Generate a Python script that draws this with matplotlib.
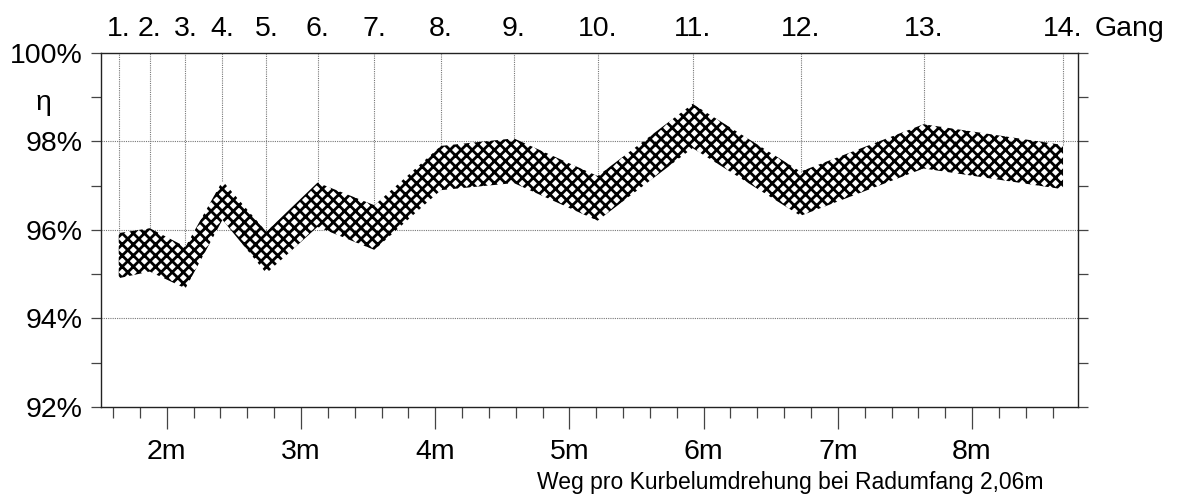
import numpy as np
import matplotlib
matplotlib.use("Agg")
import matplotlib.pyplot as plt
from matplotlib.ticker import MultipleLocator, FixedLocator
from matplotlib.transforms import blended_transform_factory

plt.rcParams['font.family'] = ['Liberation Sans', 'DejaVu Sans']
plt.rcParams['hatch.linewidth'] = 2.0

# --- Data: distance per crank turn (m) and efficiency band per gear ---
gears = ["1.", "2.", "3.", "4.", "5.", "6.", "7.", "8.", "9.", "10.", "11.", "12.", "13.", "14."]
weg = [1.642, 1.873, 2.139, 2.415, 2.742, 3.123, 3.547, 4.042, 4.586, 5.210, 5.918, 6.722, 7.639, 8.678]
eta_upper = [95.93, 96.04, 95.62, 97.11, 95.96, 97.07, 96.56, 97.90, 98.07, 97.22, 98.85, 97.32, 98.39, 97.92]
eta_lower = [94.91, 95.06, 94.68, 96.23, 95.02, 96.07, 95.55, 96.90, 97.06, 96.21, 97.85, 96.32, 97.39, 96.92]

x_major = [2, 3, 4, 5, 6, 7, 8]
x_labels = ["2m", "3m", "4m", "5m", "6m", "7m", "8m"]
y_major = [92, 94, 96, 98, 100]
y_labels = ["92%", "94%", "96%", "98%", "100%"]

fig = plt.figure(figsize=(11.83, 4.97), dpi=100)
ax = fig.add_axes([0.0854, 0.1811, 0.8259, 0.7123])

# --- Grid: dotted horizontals, dotted verticals from top down to band ---
grid_kw = dict(color='#777777', linewidth=0.8, linestyle=(0, (1, 1)), zorder=1)
for yv in [94, 96, 98]:
    ax.axhline(yv, **grid_kw)
ax.vlines(weg, eta_upper, 100, **grid_kw)

# --- Efficiency band ---
ax.fill_between(weg, eta_lower, eta_upper, facecolor='none', edgecolor='black',
                hatch='xxx', linewidth=0, zorder=2)

ax.set_xlim(1.51, 8.79)
ax.set_ylim(92, 100)

# --- Axes styling ---
for s in ax.spines.values():
    s.set_color('#222222')
    s.set_linewidth(1.0)

ax.xaxis.set_major_locator(FixedLocator(x_major))
ax.set_xticklabels(x_labels, fontsize=20.5)
ax.xaxis.set_minor_locator(MultipleLocator(0.2))
ax.tick_params(axis='x', which='major', direction='out', length=16, width=0.9,
               color='#444444', pad=7)
ax.tick_params(axis='x', which='minor', direction='out', length=8, width=0.9,
               color='#444444')

ax.yaxis.set_major_locator(FixedLocator(y_major))
ax.set_yticklabels(y_labels, fontsize=20.5)
ax.yaxis.set_minor_locator(MultipleLocator(1))
ax.tick_params(axis='y', which='both', direction='out', length=7, width=0.9,
               color='#444444', pad=6, right=True)

# --- Gear labels along the top ---
for g, x in zip(gears, weg):
    ax.text(x, 100.55, g, ha='center', va='center', fontsize=20.5)
ax.text(1.017, 100.55, "Gang", transform=blended_transform_factory(ax.transAxes, ax.transData),
        ha='left', va='center', fontsize=20.5)

fig.text(43 / 1183, 1 - 103 / 497, "η", ha='center', va='center', fontsize=20.5)
fig.text(790 / 1183, 1 - 483 / 497, "Weg pro Kurbelumdrehung bei Radumfang 2,06m",
         ha='center', va='center', fontsize=16.5)

plt.savefig("out.png", dpi=100)
plt.close()
